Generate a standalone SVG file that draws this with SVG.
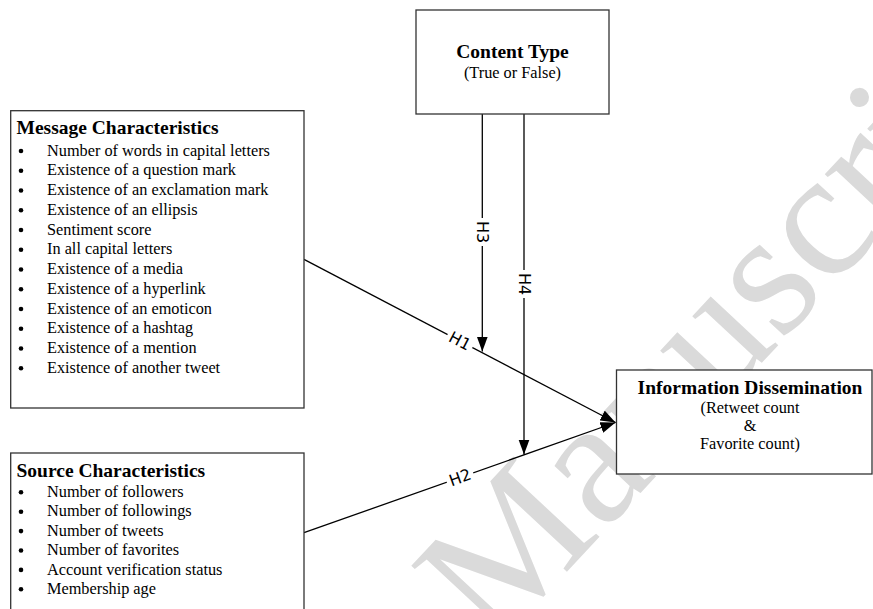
<svg xmlns="http://www.w3.org/2000/svg" width="873" height="609" viewBox="0 0 873 609">
<defs>
<marker id="arr" markerUnits="userSpaceOnUse" markerWidth="16" markerHeight="12" refX="15" refY="5.5" orient="auto">
<path d="M0,0 L15,5.5 L0,11 z" fill="#000"/>
</marker>
<style>
.box{fill:#fff;stroke:#333;stroke-width:1.3}
.hd{font-family:"Liberation Serif","Times New Roman",serif;font-weight:bold;font-size:19.5px;fill:#000}
.tx{font-family:"Liberation Serif","Times New Roman",serif;font-size:16.3px;fill:#000}
.c{text-anchor:middle}
.bl{fill:#000}
.ln{stroke:#000;stroke-width:1.3;fill:none;marker-end:url(#arr)}
.lb{font-family:"DejaVu Sans",Verdana,sans-serif;font-size:16px;fill:#000;text-anchor:middle;dominant-baseline:central}
.lbg{fill:#fff}
.wm{font-family:"Liberation Serif","Times New Roman",serif;font-size:180px;fill:#dadada}
</style>
</defs>
<rect width="873" height="609" fill="#fff"/>
<text class="wm" transform="translate(494,650) rotate(-47)">Manuscript</text>

<g id="connectors">
<line class="ln" x1="304" y1="259.3" x2="615.5" y2="422.5"/>
<line class="ln" x1="304" y1="532.7" x2="615.5" y2="422.5"/>
<line class="ln" x1="482.3" y1="114" x2="482.3" y2="351.5"/>
<line class="ln" x1="524" y1="114" x2="524" y2="454.5"/>
<g transform="translate(460,341) rotate(27.6)"><rect class="lbg" x="-14" y="-8" width="28" height="16"/><text class="lb" x="0" y="0">H1</text></g>
<g transform="translate(460,477.5) rotate(-19.6)"><rect class="lbg" x="-14" y="-8" width="28" height="16"/><text class="lb" x="0" y="0">H2</text></g>
<g transform="translate(482.3,232) rotate(90)"><rect class="lbg" x="-14" y="-8" width="28" height="16"/><text class="lb" x="0" y="0">H3</text></g>
<g transform="translate(524,284) rotate(90)"><rect class="lbg" x="-14" y="-8" width="28" height="16"/><text class="lb" x="0" y="0">H4</text></g>
</g>

<g id="content-type">
<rect class="box" x="416" y="10" width="193" height="104"/>
<text class="hd c" x="512.5" y="58.3">Content Type</text>
<text class="tx c" x="512.5" y="78.3">(True or False)</text>
</g>

<g id="message-characteristics">
<rect class="box" x="10.7" y="110.7" width="293.3" height="297.3"/>
<text class="hd" x="16.5" y="134">Message Characteristics</text>
<g class="bl">
<circle cx="21" cy="151" r="2.3"/><circle cx="21" cy="170.75" r="2.3"/><circle cx="21" cy="190.5" r="2.3"/>
<circle cx="21" cy="210.25" r="2.3"/><circle cx="21" cy="230" r="2.3"/><circle cx="21" cy="249.75" r="2.3"/>
<circle cx="21" cy="269.5" r="2.3"/><circle cx="21" cy="289.25" r="2.3"/><circle cx="21" cy="309" r="2.3"/>
<circle cx="21" cy="328.75" r="2.3"/><circle cx="21" cy="348.5" r="2.3"/><circle cx="21" cy="368.25" r="2.3"/>
</g>
<g class="tx">
<text x="47" y="155.7">Number of words in capital letters</text>
<text x="47" y="175.45">Existence of a question mark</text>
<text x="47" y="195.2">Existence of an exclamation mark</text>
<text x="47" y="214.95">Existence of an ellipsis</text>
<text x="47" y="234.7">Sentiment score</text>
<text x="47" y="254.45">In all capital letters</text>
<text x="47" y="274.2">Existence of a media</text>
<text x="47" y="293.95">Existence of a hyperlink</text>
<text x="47" y="313.7">Existence of an emoticon</text>
<text x="47" y="333.45">Existence of a hashtag</text>
<text x="47" y="353.2">Existence of a mention</text>
<text x="47" y="372.95">Existence of another tweet</text>
</g>
</g>

<g id="source-characteristics">
<rect class="box" x="10.7" y="453" width="293.3" height="170"/>
<text class="hd" x="16.5" y="477">Source Characteristics</text>
<g class="bl">
<circle cx="21" cy="492.3" r="2.3"/><circle cx="21" cy="511.7" r="2.3"/><circle cx="21" cy="531.1" r="2.3"/>
<circle cx="21" cy="550.5" r="2.3"/><circle cx="21" cy="569.9" r="2.3"/><circle cx="21" cy="589.3" r="2.3"/>
</g>
<g class="tx">
<text x="47" y="497">Number of followers</text>
<text x="47" y="516.4">Number of followings</text>
<text x="47" y="535.8">Number of tweets</text>
<text x="47" y="555.2">Number of favorites</text>
<text x="47" y="574.6">Account verification status</text>
<text x="47" y="594">Membership age</text>
</g>
</g>

<g id="information-dissemination">
<rect class="box" x="616.5" y="370" width="255.5" height="104"/>
<text class="hd c" x="750" y="394">Information Dissemination</text>
<text class="tx c" x="750" y="413">(Retweet count</text>
<text class="tx c" x="750" y="431">&amp;</text>
<text class="tx c" x="750" y="449">Favorite count)</text>
</g>
</svg>
